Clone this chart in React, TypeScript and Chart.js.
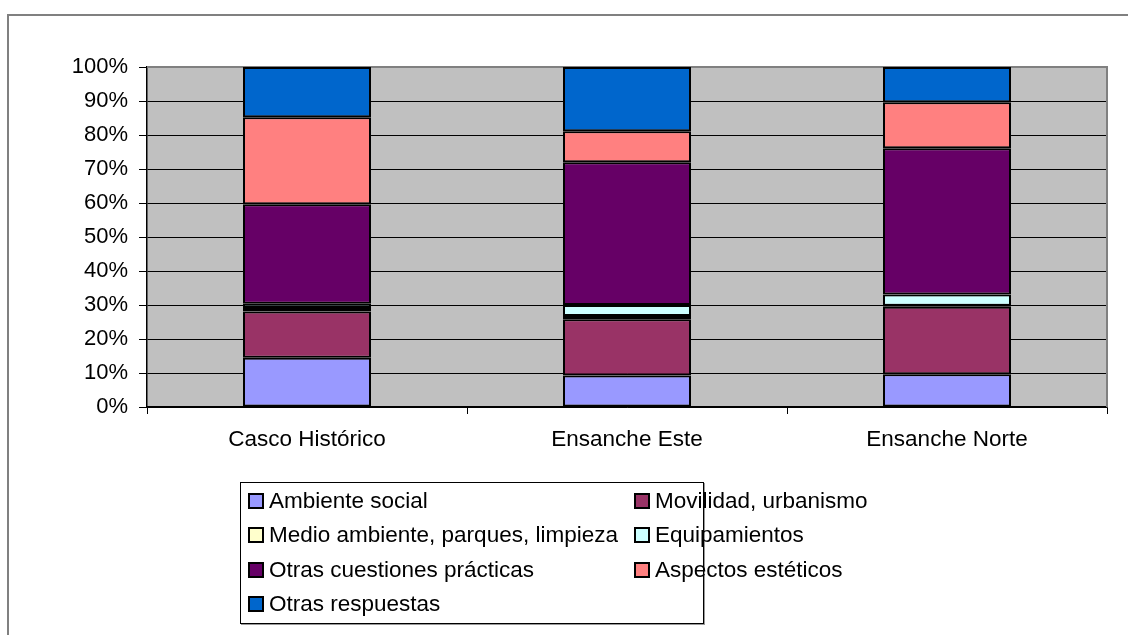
import React, { useEffect, useRef } from "react";
import { Chart, registerables } from "chart.js";

Chart.register(...registerables);

const categories = ["Casco Histórico", "Ensanche Este", "Ensanche Norte"];
const seriesNames = [
  "Ambiente social",
  "Movilidad, urbanismo",
  "Medio ambiente, parques, limpieza",
  "Equipamientos",
  "Otras cuestiones prácticas",
  "Aspectos estéticos",
  "Otras respuestas",
];
const seriesColors = ["#9999FF", "#993366", "#FFFFCC", "#CCFFFF", "#660066", "#FF8080", "#0066CC"];
const ambienteSocial = [14.5, 9.3, 9.6];
const movilidad = [13.6, 16.5, 19.9];
const medioAmbiente = [1.0, 1.0, 0.3];
const equipamientos = [1.3, 3.2, 3.3];
const otrasCuestiones = [29.2, 42.0, 43.0];
const aspectosEsteticos = [25.6, 9.1, 13.5];
const otrasRespuestas = [14.8, 18.9, 10.4];
const yTicks = [0, 10, 20, 30, 40, 50, 60, 70, 80, 90, 100];

const seriesValues = [
  ambienteSocial,
  movilidad,
  medioAmbiente,
  equipamientos,
  otrasCuestiones,
  aspectosEsteticos,
  otrasRespuestas,
];

const FONT = "'Liberation Sans', Arial, sans-serif";

const plotBg = {
  id: "plotBg",
  beforeDraw(chart: any) {
    const { ctx, chartArea: a } = chart;
    ctx.save();
    ctx.fillStyle = "#C0C0C0";
    ctx.fillRect(a.left, a.top, a.right - a.left, a.bottom - a.top);
    ctx.restore();
  },
  beforeDatasetsDraw(chart: any) {
    const { ctx, chartArea: a } = chart;
    ctx.save();
    ctx.strokeStyle = "#808080";
    ctx.lineWidth = 2;
    ctx.beginPath();
    ctx.moveTo(a.left, a.top);
    ctx.lineTo(a.right, a.top);
    ctx.lineTo(a.right, a.bottom);
    ctx.stroke();
    ctx.restore();
  },
};

export default function App() {
  const ref = useRef<HTMLCanvasElement | null>(null);
  useEffect(() => {
    if (!ref.current) return;
    const chart = new Chart(ref.current, {
      type: "bar",
      data: {
        labels: categories,
        datasets: seriesNames.map((name, i) => ({
          label: name,
          data: seriesValues[i],
          backgroundColor: seriesColors[i],
          borderColor: "#000000",
          borderWidth: 2,
          borderSkipped: false,
          categoryPercentage: 1,
          barPercentage: 0.4,
        })),
      },
      options: {
        animation: false,
        responsive: false,
        devicePixelRatio: 1,
        layout: { padding: { top: 67, right: 21, left: 0, bottom: 0 } },
        plugins: { legend: { display: false }, tooltip: { enabled: false } },
        scales: {
          x: {
            stacked: true,
            offset: true,
            grid: {
              offset: true,
              drawOnChartArea: false,
              drawTicks: true,
              tickLength: 7,
              color: "#000000",
              lineWidth: 1,
            },
            border: { color: "#000000", width: 1.5 },
            ticks: { color: "#000000", font: { family: FONT, size: 22.5 }, padding: 12 },
            afterFit(scale: any) {
              scale.height = 228;
            },
          },
          y: {
            stacked: true,
            min: 0,
            max: 100,
            afterBuildTicks(scale: any) {
              scale.ticks = yTicks.map((v) => ({ value: v }));
            },
            grid: {
              color: "#000000",
              lineWidth: 1,
              drawTicks: true,
              tickLength: 8,
              tickColor: "#000000",
            },
            border: { color: "#000000", width: 1.5 },
            ticks: {
              color: "#000000",
              font: { family: FONT, size: 22 },
              padding: 11,
              callback: (v: any) => v + "%",
            },
            afterFit(scale: any) {
              scale.width = 147;
            },
          },
        },
      },
      plugins: [plotBg],
    });
    return () => chart.destroy();
  }, []);

  const rowTops = [0, 1, 2, 3];
  return (
    <div
      style={{
        position: "absolute",
        left: 0,
        top: 0,
        width: 1128,
        height: 635,
        overflow: "hidden",
        background: "#FFFFFF",
        fontFamily: FONT,
      }}
    >
      <div
        style={{
          position: "absolute",
          left: 7,
          top: 14,
          width: 1300,
          height: 800,
          border: "2px solid #808080",
        }}
      />
      <canvas
        ref={ref}
        width={1128}
        height={635}
        style={{ position: "absolute", left: 0, top: 0, width: 1128, height: 635 }}
      />
      <div
        style={{
          position: "absolute",
          left: 240,
          top: 482,
          width: 462,
          height: 140,
          border: "1px solid #000000",
          boxShadow: "1px 1px 0 #999",
          background: "#FFFFFF",
        }}
      >
        {seriesNames.map((name, i) => {
          const col = i % 2;
          const row = Math.floor(i / 2);
          return (
            <div
              key={name}
              style={{
                position: "absolute",
                left: col === 0 ? 7 : 393,
                top: 18 + row * 34.3 - 14,
                height: 28,
                display: "flex",
                alignItems: "center",
                whiteSpace: "nowrap",
                fontSize: 22.5,
                color: "#000",
              }}
            >
              <span
                style={{
                  display: "inline-block",
                  width: 12,
                  height: 12,
                  border: "2px solid #000",
                  background: seriesColors[i],
                  marginRight: 5,
                  flex: "none",
                }}
              />
              <span>{name}</span>
            </div>
          );
        })}
      </div>
    </div>
  );
}
